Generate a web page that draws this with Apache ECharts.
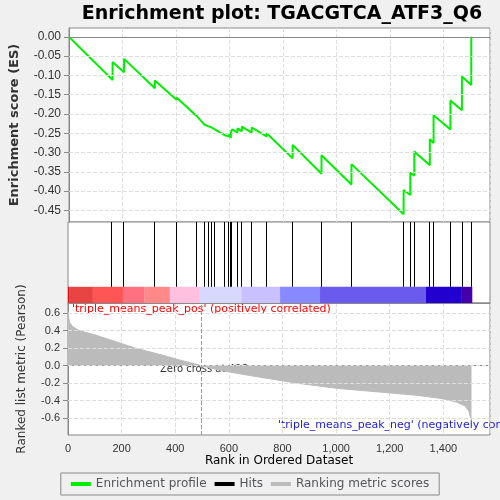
<!DOCTYPE html><html><head><meta charset="utf-8"><script src="https://cdn.jsdelivr.net/npm/echarts@6/dist/echarts.min.js"></script></head><body style="margin:0;background:#f0f0f0"><div id="c" style="width:500px;height:500px"></div><script>
const hits=[163,206,321,402,477,507,522,533,545,582,599,605,610,630,646,683,739,836,944,1056,1251,1276,1291,1349,1363,1426,1469,1504];
const esBefore=[-0.112,-0.092,-0.133,-0.163,-0.205,-0.228,-0.232,-0.235,-0.240,-0.255,-0.258,-0.262,-0.250,-0.248,-0.245,-0.248,-0.258,-0.315,-0.355,-0.383,-0.46,-0.41,-0.36,-0.333,-0.275,-0.24,-0.19,-0.125];
const esAfter=[-0.065,-0.057,-0.113,-0.157,-0.200,-0.225,-0.230,-0.232,-0.237,-0.250,-0.252,-0.248,-0.240,-0.237,-0.233,-0.235,-0.250,-0.28,-0.307,-0.33,-0.397,-0.352,-0.297,-0.265,-0.203,-0.165,-0.103,0.0];
const metricRank=[0,5,15,40,100,170,250,350,420,496,560,650,750,850,1000,1150,1300,1400,1450,1480,1495,1500,1505];
const metricVal=[0.62,0.5,0.45,0.4,0.35,0.28,0.2,0.12,0.06,0,-0.05,-0.1,-0.15,-0.2,-0.26,-0.3,-0.34,-0.38,-0.42,-0.46,-0.52,-0.58,-0.63];
const barEdges=[0,4,93,205,284,380,492,646,791,940,1335,1466,1508];
const barColors=['#dd1111','#e84444','#ff5555','#ff7080','#ff8888','#ffc0e0','#d8d8ff','#c8c0ff','#8888ff','#6a5aee','#2200d0','#4400aa'];
const esTicks=[0,-0.05,-0.1,-0.15,-0.2,-0.25,-0.3,-0.35,-0.4,-0.45];
const metricTicks=[0.6,0.4,0.2,0,-0.2,-0.4,-0.6];
const es=[[0,0]];hits.forEach((h,i)=>{es.push([h,esBefore[i]]);es.push([h,esAfter[i]]);});
const ch=echarts.init(document.getElementById('c'));
const ax={min:0,max:1574,interval:200,splitLine:{show:true,lineStyle:{color:'#ddd',type:'dashed'}},axisLine:{lineStyle:{color:'#888'}},axisTick:{show:false}};
const fmt=v=>v>=1000?(Math.floor(v/1000)+','+String(v%1000).padStart(3,'0')):String(v);
const gridLines=t=>({silent:true,symbol:'none',label:{show:false},lineStyle:{color:'#ddd',type:'dashed',width:1},data:t.map(v=>({yAxis:v}))});
ch.setOption({animation:false,
title:{text:'Enrichment plot: TGACGTCA_ATF3_Q6',left:277,top:0,textAlign:'center',textStyle:{fontFamily:'DejaVu Sans',fontSize:19,fontWeight:'bold',color:'#000'}},
grid:[{left:68,right:10,top:28,height:194,backgroundColor:'#fff',show:true,borderColor:'#888'},
{left:68,right:10,top:222,height:81,show:true,backgroundColor:'#fff',borderColor:'#888'},
{left:68,right:10,top:303,height:132,show:true,backgroundColor:'#fff',borderColor:'#888'}],
xAxis:[Object.assign({gridIndex:0,axisLabel:{show:false}},ax),
Object.assign({gridIndex:1,axisLabel:{show:false}},ax,{splitLine:{show:false}}),
Object.assign({gridIndex:2,name:'Rank in Ordered Dataset',nameLocation:'middle',nameGap:20,nameTextStyle:{fontSize:12,fontFamily:'DejaVu Sans',color:'#000'},axisLabel:{fontSize:11,color:'#333',formatter:fmt,showMaxLabel:false}},ax)],
yAxis:[{gridIndex:0,min:-0.48,max:0.023,name:'Enrichment score (ES)',nameLocation:'middle',nameGap:48,nameTextStyle:{fontSize:13,fontWeight:'bold',fontFamily:'DejaVu Sans',color:'#333'},axisLabel:{fontSize:12,color:'#333',customValues:esTicks,formatter:v=>v.toFixed(2)},axisTick:{customValues:esTicks},splitLine:{show:false},axisLine:{show:true,lineStyle:{color:'#888'}}},
{gridIndex:1,min:0,max:1,show:false},
{gridIndex:2,min:-0.794,max:0.714,name:'Ranked list metric (Pearson)',nameLocation:'middle',nameGap:40,nameTextStyle:{fontSize:12,fontFamily:'DejaVu Sans',color:'#333'},axisLabel:{fontSize:11,color:'#333',customValues:metricTicks,formatter:v=>v.toFixed(1)},axisTick:{customValues:metricTicks},splitLine:{show:false},axisLine:{show:true,lineStyle:{color:'#888'}}}],
legend:{bottom:5,left:'center',itemWidth:20,itemHeight:4,borderColor:'#888',borderWidth:1,borderRadius:0,padding:[5,10],textStyle:{fontSize:12,fontFamily:'DejaVu Sans'},data:[{name:'Enrichment profile',icon:'rect'},{name:'Hits',icon:'rect'},{name:'Ranking metric scores',icon:'rect'}]},
series:[
{name:'ESgrid',type:'line',xAxisIndex:0,yAxisIndex:0,data:[],markLine:gridLines(esTicks.slice(1))},
{name:'Enrichment profile',type:'line',xAxisIndex:0,yAxisIndex:0,data:es,showSymbol:false,lineStyle:{color:'#00ee00',width:2},itemStyle:{color:'#00ee00'},
 markLine:{silent:true,symbol:'none',label:{show:false},lineStyle:{color:'#888',type:'solid',width:1},data:[{yAxis:0}]}},
{name:'Hits',type:'line',xAxisIndex:1,yAxisIndex:1,data:[],itemStyle:{color:'#000'},lineStyle:{color:'#000'},
 markLine:{silent:true,symbol:'none',label:{show:false},lineStyle:{color:'#000',type:'solid',width:1},data:hits.map(h=>[{coord:[h,0.2]},{coord:[h,1]}])},
 markArea:{silent:true,data:barColors.map((c,i)=>[{coord:[barEdges[i],0],itemStyle:{color:c}},{coord:[barEdges[i+1],0.2]}])}},
{name:'MetricGrid',type:'line',xAxisIndex:2,yAxisIndex:2,data:[],markLine:gridLines(metricTicks)},
{name:'Ranking metric scores',type:'line',xAxisIndex:2,yAxisIndex:2,data:metricRank.map((r,i)=>[r,metricVal[i]]),showSymbol:false,lineStyle:{color:'#bbb',width:1},itemStyle:{color:'#bbb'},areaStyle:{color:'#bbb',opacity:1},
 markLine:{silent:true,symbol:'none',lineStyle:{color:'#999',type:'dashed',width:1},label:{show:false},data:[{xAxis:496}]}}
],
graphic:[
{type:'text',left:72,top:304,style:{text:"'triple_means_peak_pos' (positively correlated)",fill:'#ff0000',font:'11px DejaVu Sans'}},
{type:'text',left:160,top:364,style:{text:'Zero cross at 496',fill:'#333',font:'10px DejaVu Sans'}},
{type:'text',left:278,top:420,style:{text:"'triple_means_peak_neg' (negatively correlated)",fill:'#2222cc',font:'11px DejaVu Sans'}}
]});
</script></body></html>
